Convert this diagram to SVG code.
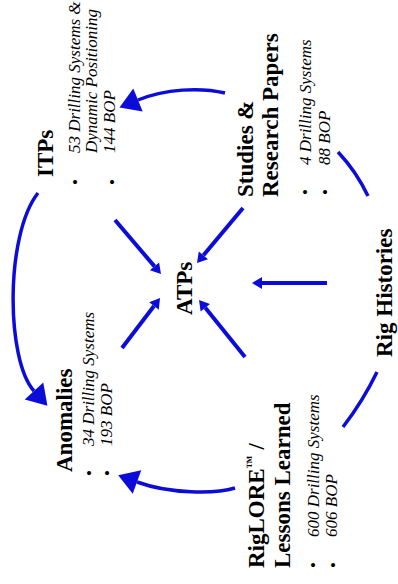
<svg xmlns="http://www.w3.org/2000/svg" width="398" height="584" viewBox="0 0 398 584">
<style>
.h{font-family:"Liberation Serif","Times New Roman",serif;font-weight:bold;font-size:23px;fill:#000}
.t{font-family:"Liberation Serif","Times New Roman",serif;font-style:italic;font-size:17px;fill:#000}
.b{font-family:"Liberation Serif","Times New Roman",serif;font-size:17px;fill:#000;text-anchor:middle}
.c{fill:none;stroke:#0c0cd8;stroke-width:3.5}
.s{fill:none;stroke:#0c0cd8;stroke-width:4}
</style>
<defs>
<marker id="big" markerUnits="userSpaceOnUse" markerWidth="20" markerHeight="25" refX="0" refY="12.5" orient="auto" overflow="visible">
<path d="M0,0 L20,12.5 L0,25 z" fill="#0c0cd8"/>
</marker>
<marker id="small" markerUnits="userSpaceOnUse" markerWidth="10" markerHeight="12" refX="0" refY="6" orient="auto" overflow="visible">
<path d="M0,0 L10,6 L0,12 z" fill="#0c0cd8"/>
</marker>
</defs>
<rect width="398" height="584" fill="#fff"/>
<g id="connectors">
<path class="c" d="M38,193 C5,235 6,360 34,391" marker-end="url(#big)"/>
<path class="c" d="M225,93 C200,87 165,89 138,100" marker-end="url(#big)"/>
<path class="c" d="M235,488 C215,494 170,494 137,482" marker-end="url(#big)"/>
<path class="c" d="M368,196 Q356,171 338,152"/>
<path class="c" d="M377,372 Q363,401 343,427"/>
<path class="s" d="M115,220 L154.5,266.4" marker-end="url(#small)"/>
<path class="s" d="M122,348 L154,306" marker-end="url(#small)"/>
<path class="s" d="M243,208 L203.4,255.3" marker-end="url(#small)"/>
<path class="s" d="M327,283 L262,283" marker-end="url(#small)"/>
<path class="s" d="M245,357 L205.3,307.8" marker-end="url(#small)"/>
</g>
<g id="itps">
<text class="h" transform="translate(53,177) rotate(-90)">ITPs</text>
<text class="b" transform="translate(81,182) rotate(-90)">•</text>
<text class="t" transform="translate(80,153) rotate(-90)">53 Drilling Systems &amp;</text>
<text class="t" transform="translate(97,153) rotate(-90)">Dynamic Positioning</text>
<text class="b" transform="translate(118,182) rotate(-90)">•</text>
<text class="t" transform="translate(115,153) rotate(-90)">144 BOP</text>
</g>
<g id="studies">
<text class="h" transform="translate(253,197) rotate(-90)">Studies &amp;</text>
<text class="h" transform="translate(278,197) rotate(-90)">Research Papers</text>
<text class="b" transform="translate(311,192) rotate(-90)">•</text>
<text class="t" transform="translate(311,165) rotate(-90)">4 Drilling Systems</text>
<text class="b" transform="translate(331,192) rotate(-90)">•</text>
<text class="t" transform="translate(330,165) rotate(-90)">88 BOP</text>
</g>
<g id="atps">
<text class="h" transform="translate(192,315) rotate(-90)">ATPs</text>
</g>
<g id="rig-histories">
<text class="h" transform="translate(392,357) rotate(-90)">Rig Histories</text>
</g>
<g id="anomalies">
<text class="h" transform="translate(72,472) rotate(-90)">Anomalies</text>
<text class="b" transform="translate(95,473) rotate(-90)">•</text>
<text class="t" transform="translate(94,446) rotate(-90)">34 Drilling Systems</text>
<text class="b" transform="translate(113,473) rotate(-90)">•</text>
<text class="t" transform="translate(112,446) rotate(-90)">193 BOP</text>
</g>
<g id="riglore">
<text class="h" transform="translate(264,568) rotate(-90)">RigLORE<tspan font-size="13" dy="-9">™</tspan><tspan dy="9"> /</tspan></text>
<text class="h" transform="translate(290,568) rotate(-90)">Lessons Learned</text>
<text class="b" transform="translate(319,565) rotate(-90)">•</text>
<text class="t" transform="translate(319,537) rotate(-90)">600 Drilling Systems</text>
<text class="b" transform="translate(339,565) rotate(-90)">•</text>
<text class="t" transform="translate(337,537) rotate(-90)">606 BOP</text>
</g>
</svg>
